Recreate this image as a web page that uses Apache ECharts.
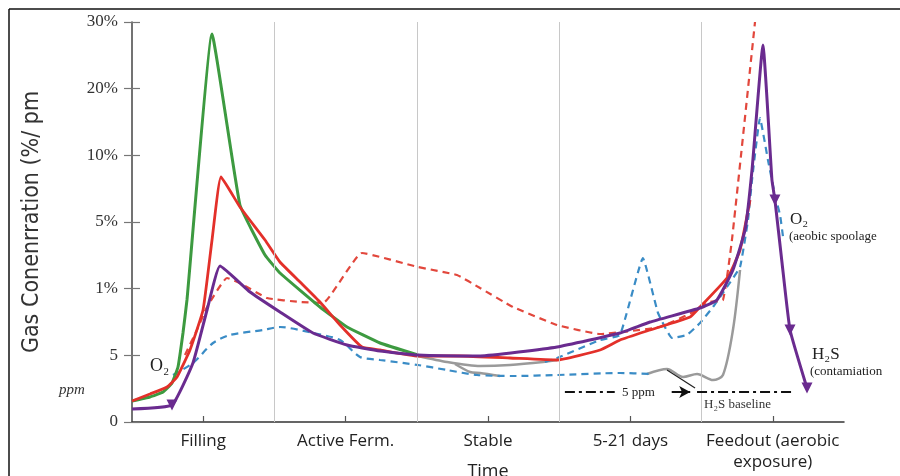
<!DOCTYPE html>
<html>
<head>
<meta charset="utf-8">
<script src="https://cdn.jsdelivr.net/npm/echarts@6/dist/echarts.min.js"></script>
<style>
  html, body { margin: 0; padding: 0; background: #fff; }
  #chart { width: 900px; height: 476px; }
</style>
</head>
<body>
<div id="chart"></div>
<script>
// stages of the silage timeline
var stages = ['Filling', 'Active Ferm.', 'Stable', '5-21 days', 'Feedout (aerobic\nexposure)'];
// y scale is not linear: one step per label
var yLabels = ['0', '5', '1%', '5%', '10%', '20%', '30%'];

// green (CO2-like curve)
var greenX = [0, 0.126, 0.218, 0.281, 0.323, 0.358, 0.386, 0.562, 0.758, 0.934, 1.039, 1.320, 1.510, 1.742, 2.008];
var greenY = [0.315, 0.375, 0.45, 0.585, 0.825, 1.335, 1.83, 5.82, 3.255, 2.505, 2.235, 1.725, 1.425, 1.185, 1.005];

// red solid
var redX = [0, 0.126, 0.246, 0.316, 0.407, 0.499, 0.562, 0.625, 0.758, 0.934, 1.039, 1.180, 1.320, 1.461, 1.615, 1.742, 2.008, 2.303, 2.654, 2.985, 3.287, 3.427, 3.638, 3.919, 3.989, 4.185, 4.270, 4.340];
var redY = [0.315, 0.42, 0.525, 0.675, 1.08, 1.68, 2.73, 3.675, 3.225, 2.73, 2.40, 2.10, 1.80, 1.455, 1.125, 1.08, 0.99, 0.99, 0.96, 0.93, 1.08, 1.23, 1.38, 1.575, 1.725, 2.175, 2.58, 3.33];

// red dashed
var redDashX = [0.372, 0.456, 0.527, 0.667, 0.758, 0.948, 1.180, 1.341, 1.615, 2.008, 2.282, 2.444, 2.676, 2.985, 3.287, 3.708, 3.940, 4.059, 4.150, 4.213, 4.375];
var redDashY = [1.005, 1.38, 1.725, 2.16, 2.085, 1.86, 1.80, 1.785, 2.535, 2.325, 2.205, 2.01, 1.725, 1.455, 1.32, 1.425, 1.65, 1.80, 1.83, 2.73, 6.0];

// blue dashed, lower track
var blueAX = [0.288, 0.428, 0.569, 0.688, 0.920, 1.039, 1.271, 1.461, 1.601, 1.742, 2.008, 2.212, 2.423, 2.676, 2.985, 3.427, 3.638];
var blueAY = [0.705, 0.885, 1.185, 1.305, 1.38, 1.425, 1.335, 1.23, 0.975, 0.93, 0.855, 0.78, 0.705, 0.69, 0.705, 0.735, 0.72];

// blue dashed, upper track with the two peaks
var blueBX = [2.900, 2.985, 3.287, 3.427, 3.588, 3.694, 3.792, 3.897, 3.989, 4.080, 4.178, 4.270, 4.326, 4.354, 4.410, 4.466, 4.515, 4.551, 4.572];
var blueBY = [0.90, 0.96, 1.23, 1.305, 2.46, 1.635, 1.26, 1.305, 1.485, 1.725, 2.025, 2.325, 3.03, 3.63, 4.56, 3.93, 3.405, 3.105, 2.775];

// purple (O2 / H2S)
var purpleX = [0, 0.281, 0.428, 0.527, 0.618, 0.829, 1.039, 1.271, 1.510, 1.742, 2.008, 2.444, 2.985, 3.427, 3.638, 3.989, 4.108, 4.220, 4.305, 4.354, 4.431, 4.494, 4.515, 4.565, 4.621, 4.740];
var purpleY = [0.195, 0.255, 0.885, 1.68, 2.34, 1.95, 1.65, 1.335, 1.155, 1.065, 1.005, 0.99, 1.125, 1.335, 1.50, 1.71, 1.83, 2.28, 2.88, 3.78, 5.655, 3.63, 3.33, 2.385, 1.38, 0.51];
var purpleMarks = [1, 22, 24, 25];

// gray (H2S)
var grayAX = [2.008, 2.212, 2.444, 2.654, 2.886, 2.985];
var grayAY = [0.99, 0.90, 0.84, 0.855, 0.90, 0.93];
var grayBX = [2.268, 2.374, 2.444, 2.584];
var grayBY = [0.87, 0.75, 0.735, 0.69];
var grayCX = [3.617, 3.757, 3.870, 3.968, 4.080, 4.150, 4.220, 4.270];
var grayCY = [0.72, 0.795, 0.675, 0.72, 0.63, 0.705, 1.38, 2.28];

// 5 ppm H2S baseline
var baseLeftX = [3.04, 3.39];
var baseRightX = [3.968, 4.656];
var arrowX = [3.79, 3.92];
var baseY = 0.45;
var leaderX = [3.757, 3.954];
var leaderY = [0.78, 0.51];

var stageEdges = [1, 2, 3, 4];

function pts(xs, ys) {
  return xs.map(function (x, i) { return [x, ys[i]]; });
}

var serif = 'Liberation Serif, DejaVu Serif, serif';
var sans = 'Open Sans, DejaVu Sans, sans-serif';

function line(name, xs, ys, color, width, dashed, smooth) {
  return {
    name: name,
    type: 'line',
    xAxisIndex: 1,
    data: pts(xs, ys),
    showSymbol: false,
    symbol: 'none',
    smooth: smooth === undefined ? 0.25 : smooth,
    lineStyle: { color: color, width: width, type: dashed ? [7, 5] : 'solid' },
    z: 3
  };
}

var chart = echarts.init(document.getElementById('chart'));

var purpleSeries = line('O2', purpleX, purpleY, '#6a2b8f', 3, false, 0.12);
purpleSeries.showSymbol = true;
purpleSeries.data = purpleX.map(function (x, i) {
  if (purpleMarks.indexOf(i) >= 0) {
    return { value: [x, purpleY[i]], symbol: 'triangle', symbolRotate: 180, symbolSize: 11, itemStyle: { color: '#6a2b8f' } };
  }
  return [x, purpleY[i]];
});
purpleSeries.z = 5;

var grayA = line('H2S', grayAX, grayAY, '#9a9a9a', 2.5, false);
grayA.markLine = {
  silent: true,
  symbol: 'none',
  label: { show: false },
  lineStyle: { color: '#c8c8c8', width: 1, type: 'solid' },
  data: stageEdges.map(function (v) { return { xAxis: v }; })
};

var arrowSeries = {
  type: 'line', xAxisIndex: 1, z: 6,
  data: [[arrowX[0], baseY], { value: [arrowX[1], baseY], symbol: 'arrow', symbolRotate: -90, symbolSize: [9, 11] }],
  symbol: 'none',
  lineStyle: { color: '#111', width: 2 },
  itemStyle: { color: '#111' }
};

function baseline(xs) {
  return {
    type: 'line', xAxisIndex: 1, z: 6, symbol: 'none',
    data: [[xs[0], baseY], [xs[1], baseY]],
    lineStyle: { color: '#111', width: 2, type: [10, 4, 3, 4] }
  };
}

var option = {
  backgroundColor: '#fff',
  animation: false,
  grid: { left: 132, right: 56, top: 22, bottom: 54, outerBoundsMode: 'none', containLabel: false },
  xAxis: [
    {
      type: 'category',
      data: stages,
      boundaryGap: true,
      axisLine: { lineStyle: { color: '#333', width: 1.5 } },
      axisTick: { length: 33, lineStyle: { color: '#444', width: 1.2 } },
      axisLabel: { interval: 0, margin: 9, fontSize: 17, fontFamily: sans, color: '#222', lineHeight: 21 },
      splitLine: { show: false },
      name: 'Time',
      nameLocation: 'middle',
      nameGap: 41,
      nameMoveOverlap: false,
      nameTextStyle: { fontSize: 18, fontFamily: sans, color: '#222', verticalAlign: 'top' }
    },
    {
      type: 'value',
      min: 0, max: 5,
      position: 'bottom',
      axisLine: { show: false },
      axisLabel: { show: false },
      splitLine: { show: false },
      axisTick: { show: true, inside: true, length: 6, lineStyle: { color: '#555', width: 1.2 }, customValues: [0.5, 1.5, 2.5, 3.5, 4.5] }
    }
  ],
  yAxis: [
    {
      type: 'value',
      position: 'left',
      min: 0, max: 6, interval: 1,
      axisLine: { show: true, lineStyle: { color: '#444', width: 1.5 } },
      axisTick: { show: true, length: 8, lineStyle: { color: '#777', width: 1.2 } },
      axisLabel: {
        margin: 14, fontSize: 17, fontFamily: serif, color: '#333',
        formatter: function (v) { return yLabels[v]; }
      },
      splitLine: { show: false },
      name: 'Gas Conenrration (%/ pm',
      nameLocation: 'middle',
      nameRotate: 90,
      nameGap: 88,
      nameTextStyle: { fontSize: 23, fontFamily: 'DejaVu Sans Condensed, Liberation Sans Narrow, sans-serif', color: '#333' }
    },
    {
      type: 'value',
      position: 'left',
      min: 0, max: 6, interval: 1,
      axisLine: { show: false },
      axisTick: { show: true, inside: true, length: 8, lineStyle: { color: '#777', width: 1.2 } },
      axisLabel: { show: false },
      splitLine: { show: false }
    }
  ],
  series: [
    grayA,
    line('H2S b', grayBX, grayBY, '#9a9a9a', 2.5, false),
    line('H2S c', grayCX, grayCY, '#9a9a9a', 2.5, false, 0.3),
    line('blue lower', blueAX, blueAY, '#3a8cc6', 2.2, true),
    line('blue upper', blueBX, blueBY, '#3a8cc6', 2.2, true, 0.1),
    line('red dashed', redDashX, redDashY, '#e2473c', 2.2, true, 0.12),
    line('green', greenX, greenY, '#3d9a40', 3, false, 0.1),
    line('red', redX, redY, '#e3302a', 2.8, false, 0.12),
    purpleSeries,
    baseline(baseLeftX),
    baseline(baseRightX),
    arrowSeries,
    {
      type: 'line', xAxisIndex: 1, z: 6, symbol: 'none',
      data: pts(leaderX, leaderY),
      lineStyle: { color: '#222', width: 1.2 }
    }
  ],
  graphic: [
    { type: 'line', shape: { x1: 9, y1: 9, x2: 900, y2: 9 }, style: { stroke: '#111', lineWidth: 1.5 } },
    { type: 'line', shape: { x1: 9, y1: 9, x2: 9, y2: 476 }, style: { stroke: '#111', lineWidth: 1.5 } },
    { type: 'text', left: 59, top: 383, style: { text: 'ppm', font: 'italic 15px ' + serif, fill: '#333' } },
    { type: 'text', left: 150, top: 357, style: { text: 'O\u2082', font: '18px ' + serif, fill: '#222' } },
    { type: 'text', left: 790, top: 211, style: { text: 'O\u2082', font: '17px ' + serif, fill: '#222' } },
    { type: 'text', left: 789, top: 230, style: { text: '(aeobic spoolage', font: '13px ' + serif, fill: '#222' } },
    { type: 'text', left: 812, top: 346, style: { text: 'H\u2082S', font: '17px ' + serif, fill: '#222' } },
    { type: 'text', left: 810, top: 365, style: { text: '(contamiation', font: '13px ' + serif, fill: '#222' } },
    { type: 'text', left: 622, top: 386, style: { text: '5 ppm', font: '13px ' + serif, fill: '#222' } },
    { type: 'text', left: 704, top: 398, style: { text: 'H\u2082S baseline', font: '13px ' + serif, fill: '#333' } }
  ]
};

chart.setOption(option);
</script>
</body>
</html>
